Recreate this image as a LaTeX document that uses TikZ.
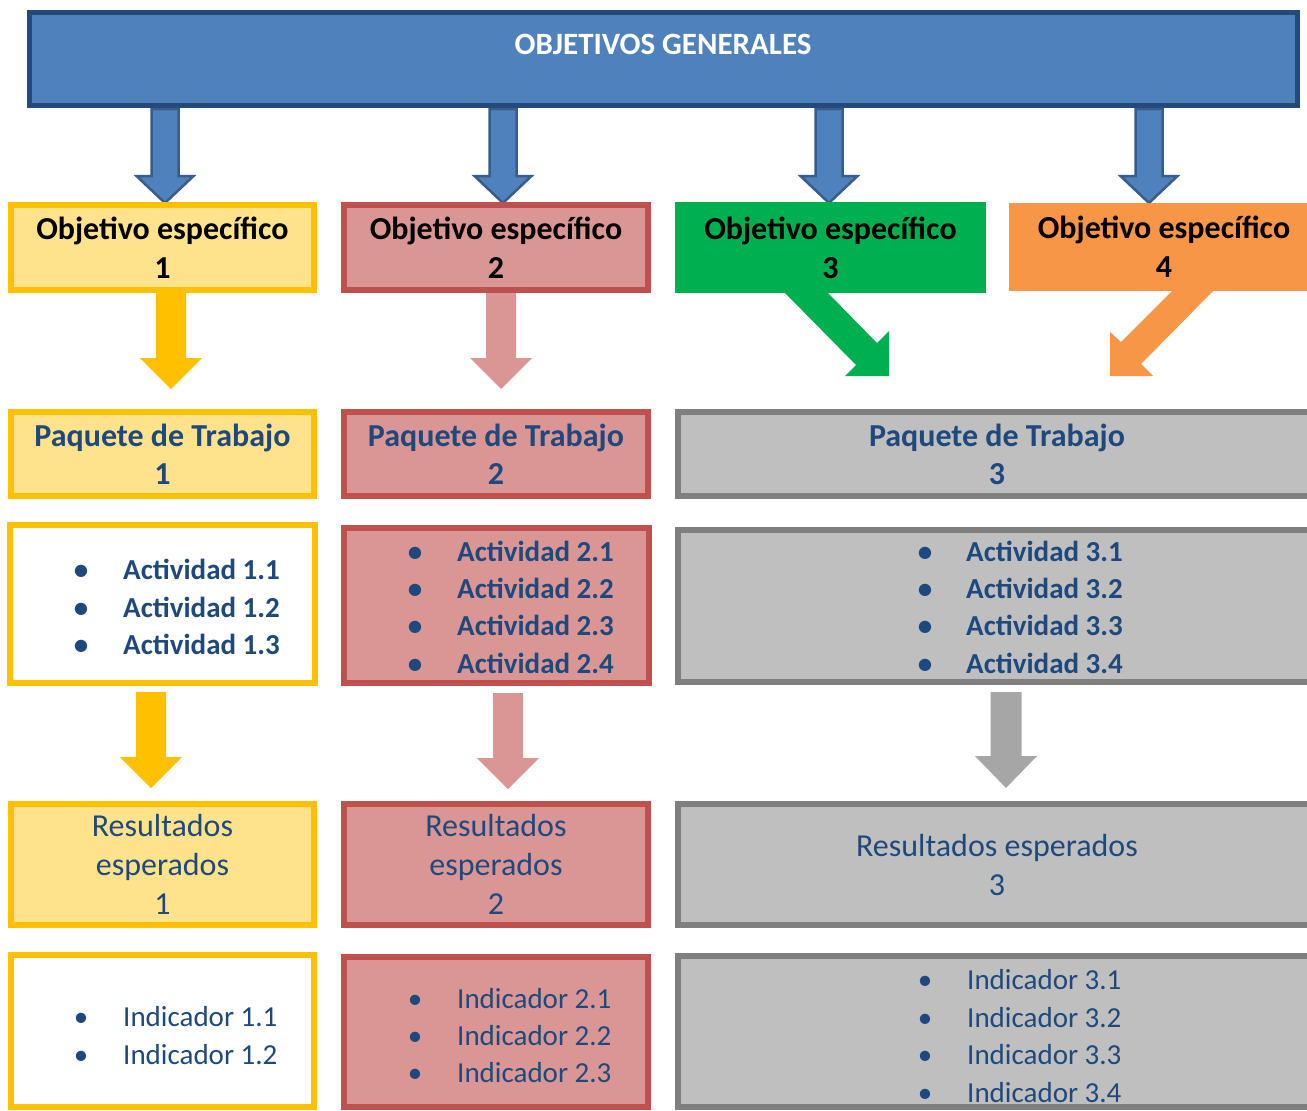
\documentclass[tikz,border=0pt]{standalone}
\usepackage{fontspec}
\setmainfont{Carlito}
\definecolor{barfill}{HTML}{4F81BD}
\definecolor{barline}{HTML}{24497B}
\definecolor{arrline}{HTML}{385D8A}
\definecolor{yline}{HTML}{FFC000}
\definecolor{yfill}{RGB}{255,227,140}
\definecolor{rline}{HTML}{C0504D}
\definecolor{rfill}{HTML}{D99694}
\definecolor{gfill}{HTML}{00B050}
\definecolor{ofill}{HTML}{F79646}
\definecolor{kline}{HTML}{7F7F7F}
\definecolor{kfill}{HTML}{BFBFBF}
\definecolor{karr}{HTML}{A6A6A6}
\definecolor{dblue}{HTML}{1F497D}
\newcommand\blockarrow[7]{%
  \path[#7] ({#1-#5},#2) -- ({#1+#5},#2) -- ({#1+#5},#3) -- ({#1+#6},#3)
    -- (#1,#4) -- ({#1-#6},#3) -- ({#1-#5},#3) -- cycle;}
\newcommand\bul{\makebox[20pt][c]{•}\hspace{32pt}}
\tikzset{
  box/.style={rectangle, inner sep=0pt, align=center, line width=6pt},
  ybox/.style={box, draw=yline, fill=yfill},
  wbox/.style={box, draw=yline, fill=white},
  rbox/.style={box, draw=rline, fill=rfill},
  kbox/.style={box, draw=kline, fill=kfill},
  headfont/.style={font=\fontsize{32}{39}\selectfont\bfseries},
  pkgfont/.style={font=\fontsize{32}{38}\selectfont\bfseries, text=dblue},
  resfont/.style={font=\fontsize{32}{39}\selectfont, text=dblue},
  actlist/.style={anchor=west, inner sep=0pt, align=left, text=dblue,
    font=\fontsize{29}{37.3}\selectfont\bfseries},
  indlist/.style={anchor=west, inner sep=0pt, align=left, text=dblue,
    font=\fontsize{29}{37.5}\selectfont},
  bluearrow/.style={fill=barfill, draw=arrline, line width=2.5pt, line join=miter},
}
\begin{document}
\begin{tikzpicture}[x=1pt, y=-1pt]
\useasboundingbox (0,0) rectangle (1307,1111);
\clip (0,0) rectangle (1307,1111);
\fill[white] (0,0) rectangle (1307,1111);

% top bar
\node[box, draw=barline, fill=barfill, line width=5pt, minimum width=1268pt, minimum height=93pt] (bar) at (663.5,59) {};
\node[font=\fontsize{31}{37}\selectfont\bfseries, text=white] (title) at (663,44) {OBJETIVOS GENERALES};

% blue arrows
\blockarrow{165}{109}{176}{203}{13.5}{28.5}{bluearrow}
\blockarrow{503}{109}{176}{203}{13.5}{28.5}{bluearrow}
\blockarrow{829}{109}{176}{203}{13.5}{28.5}{bluearrow}
\blockarrow{1149}{109}{176}{203}{13.5}{28.5}{bluearrow}

% objetivos especificos
\node[ybox, headfont, minimum width=303pt, minimum height=85pt] (o1) at (162.5,247.5) {Objetivo específico\\1};
\node[rbox, headfont, minimum width=304pt, minimum height=85pt] (o2) at (496,247.5) {Objetivo específico\\2};
\node[box, fill=gfill, headfont, minimum width=311pt, minimum height=91pt] (o3) at (830.5,247.5) {Objetivo específico\\3};
\node[box, fill=ofill, headfont, minimum width=310pt, minimum height=88pt] (o4) at (1164,247) {Objetivo específico\\4};

% second row arrows
\blockarrow{171}{293}{358}{389}{15}{31}{fill=yline}
\blockarrow{501}{293}{358}{389}{15}{31}{fill=rfill}
\fill[gfill] (785,293) -- (828,293) -- (877,343) -- (889,331) -- (889,376) -- (845,376) -- (856,365) -- cycle;
\fill[ofill] (1172,291) -- (1213,291) -- (1141,364) -- (1153,376) -- (1110,376) -- (1110,332) -- (1121,342) -- cycle;

% paquetes de trabajo
\node[ybox, pkgfont, minimum width=303pt, minimum height=84pt] (p1) at (162.5,454) {Paquete de Trabajo\\1};
\node[rbox, pkgfont, minimum width=304pt, minimum height=84pt] (p2) at (496,454) {Paquete de Trabajo\\2};
\node[kbox, pkgfont, minimum width=638pt, minimum height=84pt] (p3) at (997,454) {Paquete de Trabajo\\3};

% actividades
\node[wbox, minimum width=305pt, minimum height=158pt] (a1) at (162.5,604) {};
\node[rbox, minimum width=305pt, minimum height=155pt] (a2) at (496.5,605.5) {};
\node[kbox, minimum width=638pt, minimum height=152pt] (a3) at (997,606) {};
\node[actlist] (a1t) at (71,607) {\bul Actividad 1.1\\\bul Actividad 1.2\\\bul Actividad 1.3};
\node[actlist] (a2t) at (405,607) {\bul Actividad 2.1\\\bul Actividad 2.2\\\bul Actividad 2.3\\\bul Actividad 2.4};
\node[actlist] (a3t) at (915,607) {\makebox[20pt][c]{•}\hspace{31pt}Actividad 3.1\\\makebox[20pt][c]{•}\hspace{31pt}Actividad 3.2\\\makebox[20pt][c]{•}\hspace{31pt}Actividad 3.3\\\makebox[20pt][c]{•}\hspace{31pt}Actividad 3.4};

% third row arrows
\blockarrow{151}{692}{757}{788}{15}{31}{fill=yline}
\blockarrow{508}{693}{758}{789}{15}{31}{fill=rfill}
\blockarrow{1006}{692}{756}{788}{15.5}{31}{fill=karr}

% resultados esperados
\node[ybox, resfont, minimum width=303pt, minimum height=121pt] (r1) at (162.5,864.5) {Resultados\\esperados\\1};
\node[rbox, resfont, minimum width=304pt, minimum height=121pt] (r2) at (496,864.5) {Resultados\\esperados\\2};
\node[kbox, resfont, minimum width=638pt, minimum height=121pt] (r3) at (997,864.5) {Resultados esperados\\3};

% indicadores
\node[wbox, minimum width=303pt, minimum height=152pt] (i1) at (162.5,1031) {};
\node[rbox, minimum width=304pt, minimum height=150pt] (i2) at (496,1032) {};
\node[kbox, minimum width=638pt, minimum height=151pt] (i3) at (997,1031.5) {};
\node[indlist, font=\fontsize{29}{38}\selectfont] (i1t) at (71,1036) {\bul Indicador 1.1\\\bul Indicador 1.2};
\node[indlist, font=\fontsize{29}{37}\selectfont] (i2t) at (405,1036) {\bul Indicador 2.1\\\bul Indicador 2.2\\\bul Indicador 2.3};
\node[indlist] (i3t) at (915,1036) {\bul Indicador 3.1\\\bul Indicador 3.2\\\bul Indicador 3.3\\\bul Indicador 3.4};
\end{tikzpicture}
\end{document}
